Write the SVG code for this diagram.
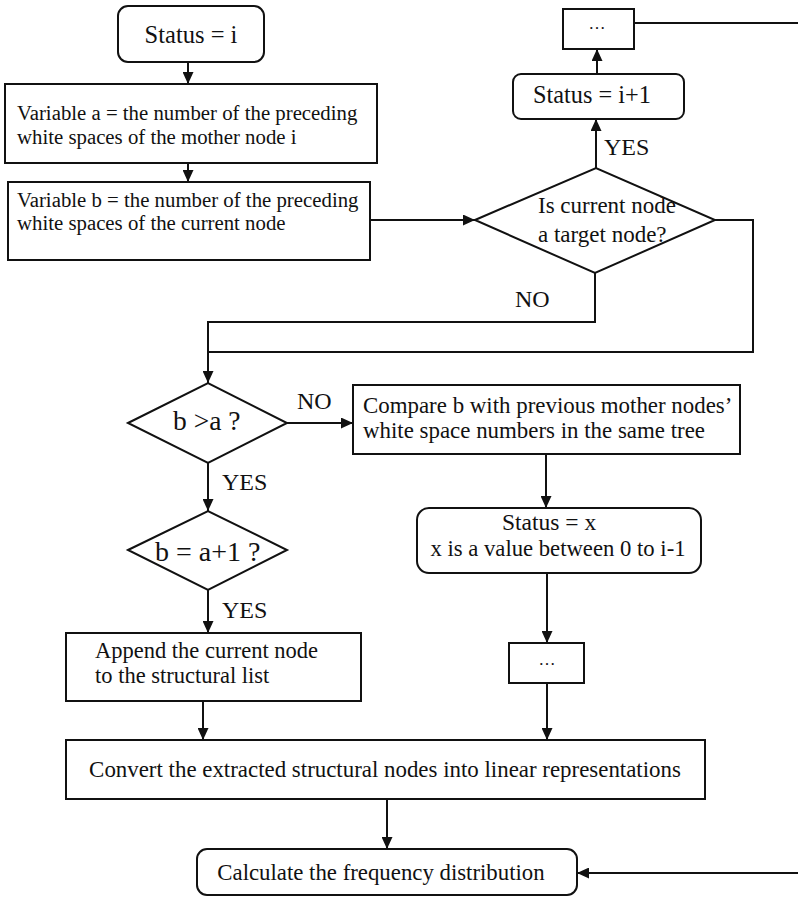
<svg xmlns="http://www.w3.org/2000/svg" width="798" height="897" viewBox="0 0 798 897">
<style>
.b{fill:#fff;stroke:#111;stroke-width:2}
.t{font-family:"Liberation Serif","Times New Roman",serif;fill:#111}
.c{fill:none;stroke:#111;stroke-width:2}
</style>
<defs>
<marker id="ah" markerUnits="userSpaceOnUse" markerWidth="12" markerHeight="11" refX="12" refY="5.5" orient="auto">
<path d="M0,0 L12,5.5 L0,11 z" fill="#111"/>
</marker>
</defs>
<rect width="798" height="897" fill="#fff"/>
<g id="connectors">
<path class="c" d="M188,62 L188,84" marker-end="url(#ah)"/>
<path class="c" d="M188,163 L188,182" marker-end="url(#ah)"/>
<path class="c" d="M370,220 L475,220" marker-end="url(#ah)"/>
<path class="c" d="M596,168 L596,119" marker-end="url(#ah)"/>
<path class="c" d="M597,74 L597,49" marker-end="url(#ah)"/>
<path class="c" d="M634,23 L798,23"/>
<path class="c" d="M715,220 L753,220 L753,352 L208,352"/>
<path class="c" d="M595,273 L595,322 L208,322 L208,383" marker-end="url(#ah)"/>
<path class="c" d="M287,423 L353,423" marker-end="url(#ah)"/>
<path class="c" d="M208,463 L208,511" marker-end="url(#ah)"/>
<path class="c" d="M208,590 L208,633" marker-end="url(#ah)"/>
<path class="c" d="M546,454 L546,508" marker-end="url(#ah)"/>
<path class="c" d="M547,573 L547,643" marker-end="url(#ah)"/>
<path class="c" d="M547,683 L547,740" marker-end="url(#ah)"/>
<path class="c" d="M203,701 L203,740" marker-end="url(#ah)"/>
<path class="c" d="M387,799 L387,849" marker-end="url(#ah)"/>
<path class="c" d="M798,873 L577,873" marker-end="url(#ah)"/>
<text class="t" x="604" y="155" font-size="24">YES</text>
<text class="t" x="515" y="307" font-size="24">NO</text>
<text class="t" x="297" y="409" font-size="24">NO</text>
<text class="t" x="222" y="490" font-size="24">YES</text>
<text class="t" x="222" y="618" font-size="24">YES</text>
</g>
<g id="status_i">
<rect class="b" x="118" y="6" width="146" height="56" rx="10"/>
<text class="t" x="191" y="43" font-size="24.5" text-anchor="middle">Status = i</text>
</g>
<g id="var_a">
<rect class="b" x="5" y="84" width="372" height="79"/>
<text class="t" x="17" y="120" font-size="20.8">Variable a = the number of the preceding</text>
<text class="t" x="17" y="144" font-size="20.8">white spaces of the mother node i</text>
</g>
<g id="var_b">
<rect class="b" x="8" y="182" width="362" height="78"/>
<text class="t" x="17" y="207" font-size="20.8">Variable b = the number of the preceding</text>
<text class="t" x="17" y="230" font-size="20.8">white spaces of the current node</text>
</g>
<g id="is_target">
<polygon class="b" points="475,220 596,168 715,220 595,273"/>
<text class="t" x="538" y="213" font-size="23">Is current node</text>
<text class="t" x="538" y="242" font-size="23">a target node?</text>
</g>
<g id="status_i1">
<rect class="b" x="513" y="74" width="171" height="45" rx="8"/>
<text class="t" x="592" y="103" font-size="24.3" text-anchor="middle">Status = i+1</text>
</g>
<g id="dots_top">
<rect class="b" x="563" y="9" width="71" height="40"/>
<text class="t" x="597" y="29" font-size="17" text-anchor="middle">…</text>
</g>
<g id="b_gt_a">
<polygon class="b" points="128,423 208,383 287,423 208,463"/>
<text class="t" x="173" y="430" font-size="27.5">b &gt;a ?</text>
</g>
<g id="compare">
<rect class="b" x="353" y="385" width="387" height="69"/>
<text class="t" x="363" y="413" font-size="22.9">Compare b with previous mother nodes’</text>
<text class="t" x="363" y="438" font-size="22.9">white space numbers in the same tree</text>
</g>
<g id="b_eq_a1">
<polygon class="b" points="128,550 208,511 287,550 208,590"/>
<text class="t" x="155" y="561" font-size="28">b = a+1 ?</text>
</g>
<g id="status_x">
<rect class="b" x="417" y="508" width="284" height="65" rx="12"/>
<text class="t" x="502" y="530" font-size="23.5">Status = x</text>
<text class="t" x="558" y="556" font-size="22.7" text-anchor="middle">x is a value between 0 to i-1</text>
</g>
<g id="append">
<rect class="b" x="66" y="633" width="295" height="68"/>
<text class="t" x="95" y="658" font-size="22.5">Append the current node</text>
<text class="t" x="95" y="683" font-size="22.5">to the structural list</text>
</g>
<g id="dots_bottom">
<rect class="b" x="509" y="643" width="75" height="40"/>
<text class="t" x="547" y="665" font-size="17" text-anchor="middle">…</text>
</g>
<g id="convert">
<rect class="b" x="66" y="740" width="639" height="59"/>
<text class="t" x="385" y="777" font-size="22.9" text-anchor="middle">Convert the extracted structural nodes into linear representations</text>
</g>
<g id="calculate">
<rect class="b" x="197" y="849" width="380" height="46" rx="10"/>
<text class="t" x="381" y="880" font-size="22.8" text-anchor="middle">Calculate the frequency distribution</text>
</g>
</svg>
